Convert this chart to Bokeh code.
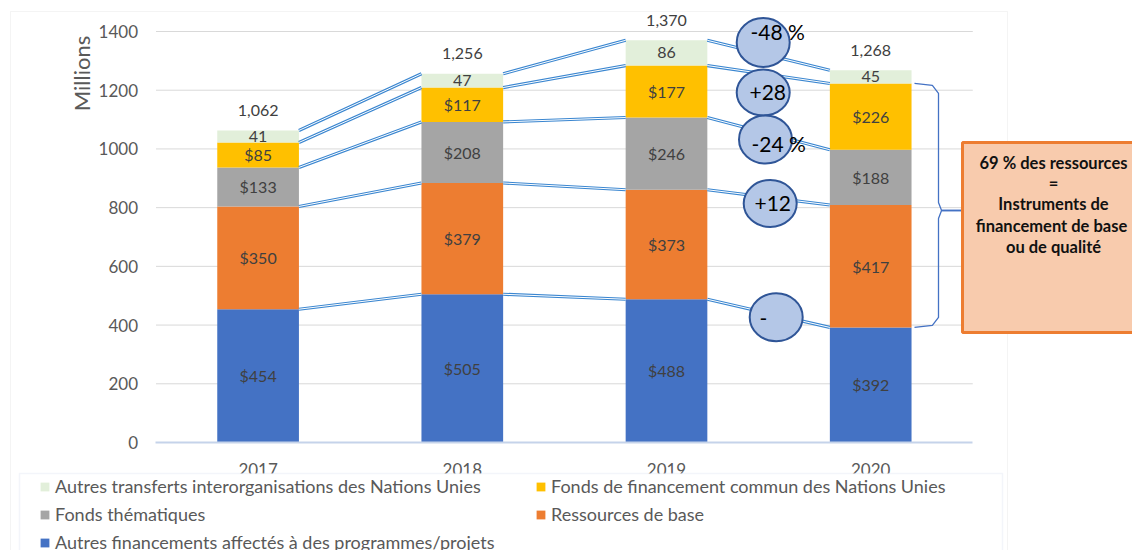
import math
from bokeh.plotting import figure
from bokeh.models import (LinearAxis, FixedTicker, Range1d, Legend, LegendItem,
                          BoxAnnotation, Label, ColumnDataSource)
from bokeh.core.properties import value
from bokeh.embed import file_html
from bokeh.resources import INLINE

# ---------------- data ----------------
years = ["2017", "2018", "2019", "2020"]
autres_financements = [454, 505, 488, 392]   # bottom (blue)
ressources_base = [350, 379, 373, 417]        # orange
fonds_thematiques = [133, 208, 246, 188]      # gray
fonds_commun = [85, 117, 177, 226]            # yellow
autres_transferts = [41, 47, 86, 45]          # top (light green)
totals = [1062, 1256, 1370, 1268]
y_ticks = [0, 200, 400, 600, 800, 1000, 1200, 1400]
changes = ["-48 %", "+28", "-24 %", "+12", "-"]
names = [
    "Autres financements affectés à des programmes/projets",
    "Ressources de base",
    "Fonds thématiques",
    "Fonds de financement commun des Nations Unies",
    "Autres transferts interorganisations des Nations Unies",
]
box_lines = ["69 % des ressources", "=", "Instruments de",
             "financement  de base", "ou de qualité"]

# ---------------- styles ----------------
colors = ["#4472C4", "#ED7D31", "#A5A5A5", "#FFC000", "#E2EFDA"]
FONT = "Lato"
W, H = 1132, 550
X0, X1 = -0.2615, 5.2821
Y0, Y1 = -367.9, 1505.6


def dx(px):  # pixel -> data x (annotation placement only)
    return X0 + px / W * (X1 - X0)


def dy(py):  # pixel -> data y (annotation placement only)
    return Y1 - py / H * (Y1 - Y0)


series = [autres_financements, ressources_base, fonds_thematiques,
          fonds_commun, autres_transferts]
keys = ["s0", "s1", "s2", "s3", "s4"]
xpos = [i + 1 for i in range(len(years))]

p = figure(width=W, height=H, x_range=Range1d(X0, X1), y_range=Range1d(Y0, Y1),
           x_axis_type=None, y_axis_type=None, toolbar_location=None,
           output_backend="svg", min_border=0, outline_line_color=None)
p.xgrid.visible = False
p.ygrid.visible = False

# chart outer border
p.add_layout(BoxAnnotation(left=dx(10), right=dx(1007), top=dy(11), bottom=Y0 - 100,
                           fill_alpha=0, line_color="#D9D9D9", line_width=1,
                           level="underlay"))

# gridlines (from tick values, over category band)
gl = [t for t in y_ticks if t > 0]
p.segment(x0=[0.5] * len(gl), x1=[len(years) + 0.5] * len(gl), y0=gl, y1=gl,
          line_color="#D9D9D9", line_width=1)

# stacked bars
src = ColumnDataSource(dict(x=xpos, **{k: v for k, v in zip(keys, series)}))
rends = p.vbar_stack(keys, x="x", width=0.4, source=src, fill_color=colors,
                     line_color=None)

# cumulative levels
cum = []
run = [0] * len(years)
for s in series:
    run = [a + b for a, b in zip(run, s)]
    cum.append(run)

# connector double lines
x0s, y0s, x1s, y1s = [], [], [], []
for lev in cum:
    for i in range(len(years) - 1):
        x0s.append(xpos[i] + 0.2)
        y0s.append(lev[i])
        x1s.append(xpos[i + 1] - 0.2)
        y1s.append(lev[i + 1])
p.segment(x0=x0s, y0=y0s, x1=x1s, y1=y1s, line_color="#3A86D0", line_width=3.2)
p.segment(x0=x0s, y0=y0s, x1=x1s, y1=y1s, line_color="white", line_width=1.0)

# segment labels
lx, ly, lt = [], [], []
bottom = [0] * len(years)
for k, s in enumerate(series):
    for i, v in enumerate(s):
        lx.append(xpos[i])
        ly.append(bottom[i] + v / 2)
        lt.append(str(v) if k == 4 else f"${v}")
    bottom = [a + b for a, b in zip(bottom, s)]
p.text(x=lx, y=ly, text=lt, text_align="center", text_baseline="middle",
       text_font=value(FONT), text_font_size="16px", text_color="#404040")

# totals
p.text(x=xpos, y=cum[-1], text=[f"{t:,}" for t in totals], y_offset=-20,
       text_align="center", text_baseline="middle",
       text_font=value(FONT), text_font_size="16px", text_color="#404040")

# change ellipses (annotations)
ell_px = [(762.7, 42), (762.7, 92), (765, 139), (769.7, 203), (775.7, 316.7)]
ell_h = [49, 46, 48, 47, 48]
p.ellipse(x=[dx(a) for a, b in ell_px], y=[dy(b) for a, b in ell_px],
          width=53, height=ell_h, width_units="screen", height_units="screen",
          fill_color="#B4C7E7", line_color="#2F5597", line_width=2)
txt_px = [(750, 31), (749, 92), (751, 143), (754, 203), (759, 318)]
p.text(x=[dx(a) for a, b in txt_px], y=[dy(b) for a, b in txt_px], text=changes,
       text_align="left", text_baseline="middle", text_font=value(FONT),
       text_font_size="21px", text_color="black")

# bracket
xb0, xb1, xtip = dx(914), dx(938), dx(962)
top, bot = cum[3][3], cum[0][3]
mid = dy(210)
u = 3.4  # data units per pixel (y)
p.line(x=[xb0, xb1 - 0.03, xb1, xb1, xb1 + 0.015, xtip],
       y=[top, top - 2 * u, top - 10 * u, mid + 8 * u, mid, mid],
       line_color="#4472C4", line_width=1.3)
p.line(x=[xtip, xb1 + 0.015, xb1, xb1, xb1 - 0.03, xb0],
       y=[mid, mid, mid - 8 * u, bot + 10 * u, bot + 2 * u, bot],
       line_color="#4472C4", line_width=1.3)

# orange box
p.quad(left=[dx(962)], right=[X1 + 0.5], top=[dy(142)], bottom=[dy(332)],
       fill_color="#F8CBAD", line_color="#ED7D31", line_width=3)
box_y = [162, 182, 203, 225, 246]
p.text(x=[dx(1053)] * len(box_lines), y=[dy(v) for v in box_y], text=box_lines,
       text_align="center", text_baseline="middle", text_font=value(FONT),
       text_font_size="16.5px", text_font_style="bold", text_color="#111111")

# y axis label
p.add_layout(Label(x=dx(81), y=dy(73), text="Millions", angle=math.pi / 2,
                   text_align="center", text_baseline="middle", text_font=FONT,
                   text_font_size="22px", text_color="#595959"))

# axes
yax = LinearAxis(ticker=FixedTicker(ticks=y_ticks), fixed_location=0.5,
                 axis_line_color=None, major_tick_line_color=None,
                 minor_tick_line_color=None, major_label_standoff=12,
                 major_label_text_font=FONT, major_label_text_font_size="17px",
                 major_label_text_color="#595959")
p.add_layout(yax, "left")
xax = LinearAxis(ticker=FixedTicker(ticks=xpos), fixed_location=0,
                 bounds=(0.5, len(years) + 0.5),
                 major_label_overrides={x: y for x, y in zip(xpos, years)},
                 axis_line_color="#C5D3EA", axis_line_width=2,
                 major_tick_line_color=None, minor_tick_line_color=None,
                 major_label_standoff=15, major_label_text_font=FONT,
                 major_label_text_font_size="17px", major_label_text_color="#595959")
p.add_layout(xax, "below")

# legend frame
p.add_layout(BoxAnnotation(left=dx(19), right=dx(1002), top=dy(473), bottom=Y0 - 100,
                           fill_color="white", fill_alpha=1, line_color="#D6DFEF",
                           line_width=1.5))

order = [4, 3, 2, 1, 0]
legend = Legend(items=[LegendItem(label=names[k], renderers=[rends[k]]) for k in order],
                orientation="horizontal", ncols=2, location=(39, -3),
                border_line_alpha=0, background_fill_alpha=0, padding=0, margin=0,
                spacing=6, glyph_width=11, glyph_height=11, label_standoff=5,
                label_width=474, label_height=22, label_text_font=FONT,
                label_text_font_size="18px", label_text_color="#595959")
p.add_layout(legend)

open("out.html", "w").write(file_html(p, INLINE))
